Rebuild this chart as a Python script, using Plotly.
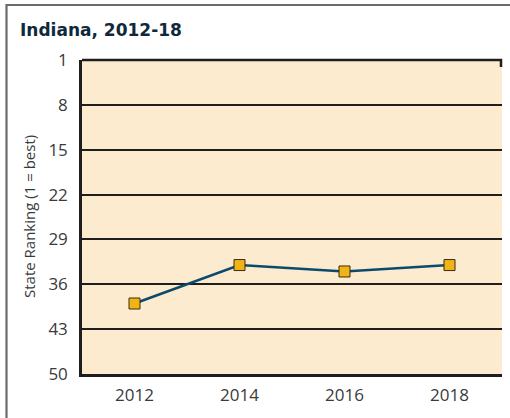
import plotly.graph_objects as go

# Indiana state ranking by year (1 = best)
years = ["2012", "2014", "2016", "2018"]
ranking = [39, 33, 34, 33]
rank_ticks = [1, 8, 15, 22, 29, 36, 43, 50]

W, H = 510, 418
ML, MR, MT, MB = 82, 8, 60, 44
PW, PH = W - ML - MR, H - MT - MB

dark = "#1e1e1e"
label_color = "#3a3a3a"
font_family = "'Open Sans', Lato, sans-serif"

fig = go.Figure()
fig.add_trace(go.Scatter(
    x=years, y=ranking, mode="lines+markers",
    line=dict(color="#0c4a6b", width=2.6),
    marker=dict(symbol="square", size=11, color="#f1b414",
                line=dict(color="#3a2a10", width=1)),
    hoverinfo="x+y", showlegend=False,
))

fig.update_layout(
    width=W, height=H,
    margin=dict(l=ML, r=MR, t=MT, b=MB),
    paper_bgcolor="white",
    plot_bgcolor="#fcebcf",
    font=dict(family=font_family, color=label_color, size=17),
    title=dict(text="<b>Indiana, 2012-18</b>", x=20 / W, xanchor="left",
               xref="container", y=1 - 30 / H, yref="container", yanchor="middle",
               font=dict(family="'DejaVu Sans', sans-serif", size=17, color="#10293a")),
    xaxis=dict(type="category", range=[-0.5, 3.5], showgrid=False,
               showline=True, linecolor=dark, linewidth=2.5, ticks="",
               tickfont=dict(size=17, color=label_color), ticklabelstandoff=4,
               fixedrange=True, zeroline=False),
    xaxis2=dict(overlaying="x", anchor="y", side="bottom", range=[-0.5, 3.5],
                tickvals=[0.5, 1.5, 2.5], ticks="inside", ticklen=8, tickwidth=2.5,
                tickcolor=dark, showticklabels=False, showgrid=False,
                showline=False, zeroline=False, fixedrange=True),
    yaxis=dict(range=[50, 1], tickvals=rank_ticks, showgrid=True,
               gridcolor=dark, gridwidth=2, showline=True, linecolor=dark,
               linewidth=2.5, ticks="", zeroline=False,
               tickfont=dict(size=17, color=label_color), ticklabelstandoff=8,
               fixedrange=True),
    annotations=[dict(
        text="State Ranking (1 = best)", textangle=-90,
        xref="paper", yref="paper", x=(29 - ML) / PW, y=0.5,
        xanchor="center", yanchor="middle", showarrow=False,
        font=dict(size=15, color=label_color, family=font_family),
    )],
    shapes=[
        # outer panel frame (top and left edges)
        dict(type="path", xref="paper", yref="paper",
             path=f"M {(6.5 - ML) / PW},{-(MB + 5) / PH} "
                  f"L {(6.5 - ML) / PW},{1 + (MT - 5) / PH} "
                  f"L {1 + (MR + 5) / PW},{1 + (MT - 5) / PH}",
             line=dict(color="#6a6a6a", width=2.2)),
        # top edge of plot area with short right-hand tick
        dict(type="path", xref="paper", yref="paper",
             path=f"M 0,1 L {1 - 1 / PW},1 L {1 - 1 / PW},{1 - 7 / PH}",
             line=dict(color=dark, width=2.5)),
    ],
)

fig.write_html("out.html")
